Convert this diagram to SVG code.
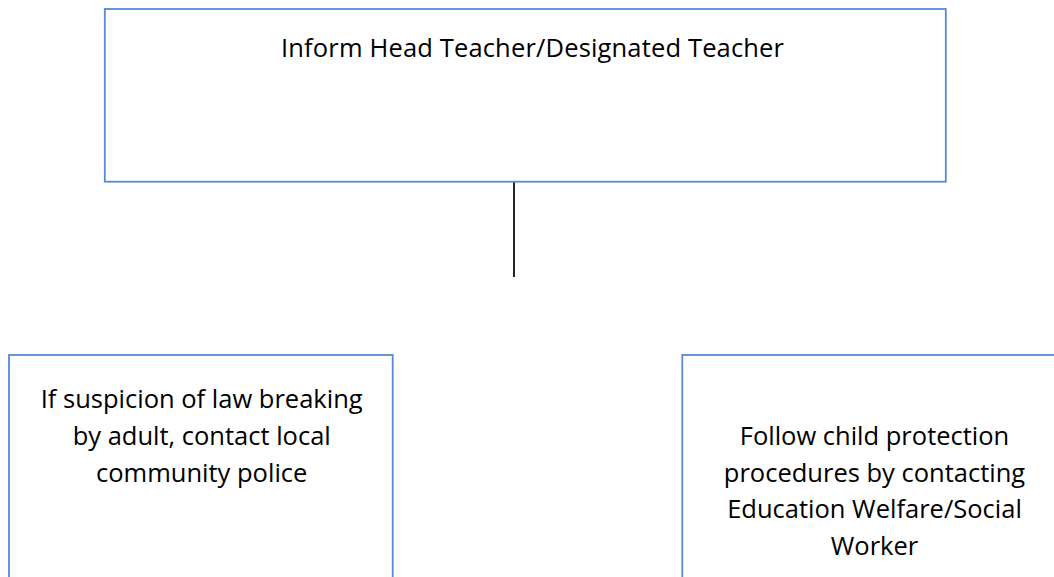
<svg xmlns="http://www.w3.org/2000/svg" width="1054" height="577" viewBox="0 0 1054 577">
<style>
.box{fill:#ffffff;stroke:#568AD4;stroke-width:1.8}
.lbl{font-family:"Open Sans","Noto Sans","DejaVu Sans",sans-serif;font-size:25.5px;fill:#000000;text-anchor:middle}
.conn{stroke:#000000;stroke-width:1.7;fill:none}
</style>
<rect width="1054" height="577" fill="#ffffff"/>
<g id="connectors">
<line class="conn" x1="514" y1="182" x2="514" y2="277"/>
</g>
<g id="node-inform">
<rect class="box" x="104.8" y="9" width="841" height="172.7"/>
<text class="lbl" x="532.5" y="57" textLength="503">Inform Head Teacher/Designated Teacher</text>
</g>
<g id="node-police">
<rect class="box" x="9" y="355" width="383.7" height="260"/>
<text class="lbl" x="201.7" y="408.3">If suspicion of law breaking</text>
<text class="lbl" x="201.7" y="445">by adult, contact local</text>
<text class="lbl" x="201.7" y="481.7">community police</text>
</g>
<g id="node-childprotection">
<rect class="box" x="682.3" y="355" width="420" height="260"/>
<text class="lbl" x="874.5" y="445">Follow child protection</text>
<text class="lbl" x="874.5" y="481.5">procedures by contacting</text>
<text class="lbl" x="874.5" y="518">Education Welfare/Social</text>
<text class="lbl" x="874.5" y="554.5">Worker</text>
</g>
</svg>
